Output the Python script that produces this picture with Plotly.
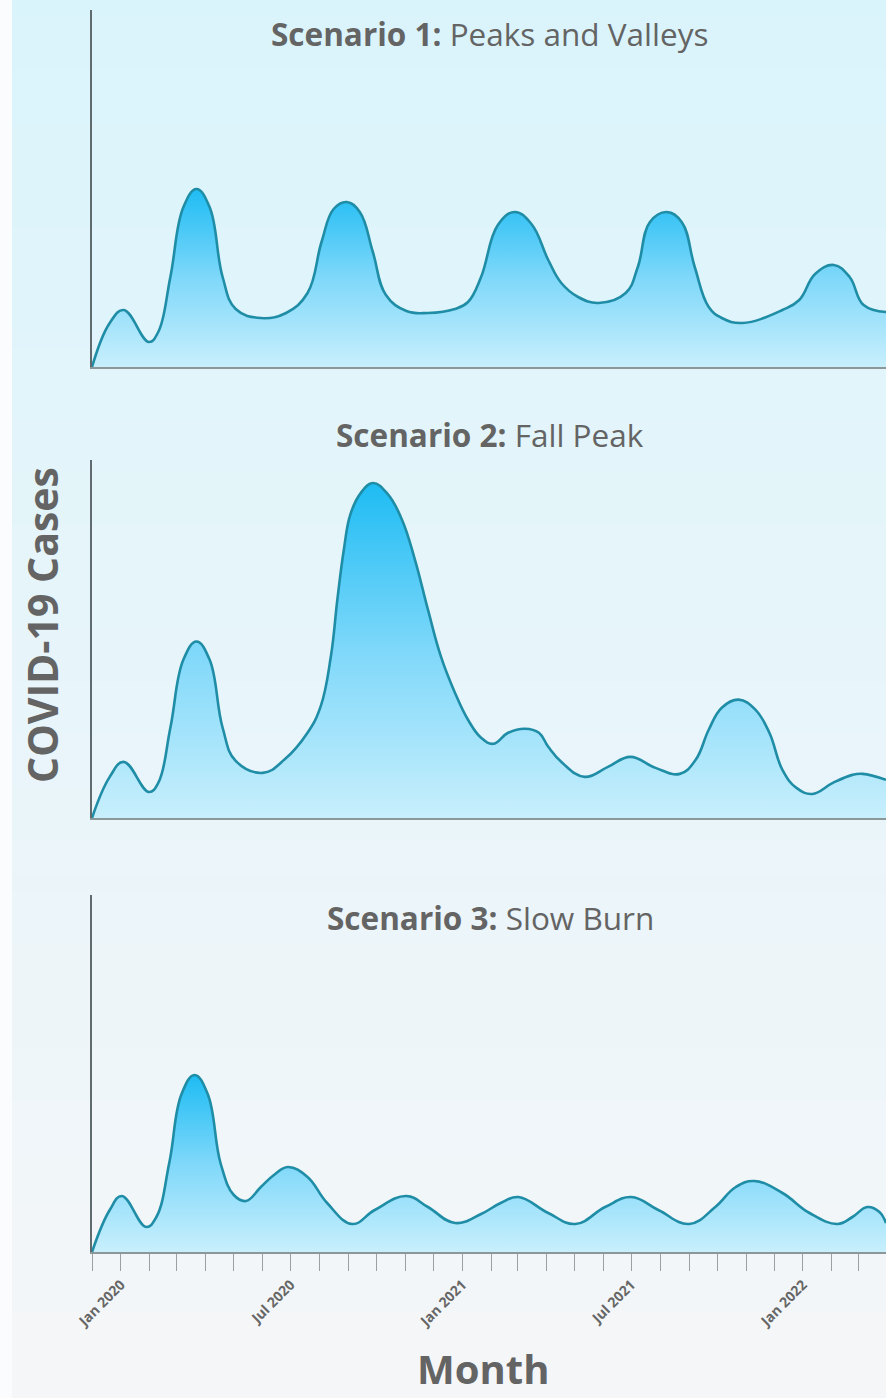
import plotly.graph_objects as go

W, H = 886, 1398
L_MARGIN = 92

# ---------------- data ----------------
s1_dates = ["2019-12-01", "2019-12-20", "2020-01-04", "2020-01-31", "2020-02-10", "2020-02-23",
            "2020-03-08", "2020-03-22", "2020-04-05", "2020-04-19", "2020-05-03", "2020-05-30",
            "2020-06-26", "2020-07-19", "2020-08-03", "2020-08-16", "2020-08-30", "2020-09-13",
            "2020-09-27", "2020-10-11", "2020-11-02", "2020-11-25", "2020-12-24", "2021-01-07",
            "2021-01-21", "2021-02-08", "2021-02-26", "2021-03-16", "2021-04-03", "2021-04-17",
            "2021-05-05", "2021-05-27", "2021-06-25", "2021-07-08", "2021-07-21", "2021-08-08",
            "2021-08-24", "2021-09-07", "2021-09-22", "2021-10-06", "2021-10-28", "2021-12-10",
            "2021-12-28", "2022-01-14", "2022-02-03", "2022-02-20", "2022-03-07", "2022-03-31"]
s1_cases = [0, 44, 57, 25, 35, 90,
            160, 178, 160, 90, 58, 49,
            54, 74, 125, 158, 165, 155,
            115, 72, 56, 54, 58, 65,
            90, 142, 155, 143, 107, 84,
            70, 64, 74, 100, 145, 155,
            145, 100, 60, 49, 44, 57,
            67, 93, 102, 90, 62, 55]

s2_dates = ["2019-12-01", "2019-12-20", "2020-01-04", "2020-01-31", "2020-02-10", "2020-02-23",
            "2020-03-08", "2020-03-22", "2020-04-05", "2020-04-19", "2020-05-03", "2020-06-01",
            "2020-06-24", "2020-07-19", "2020-08-02", "2020-08-13", "2020-08-20", "2020-08-27",
            "2020-09-03", "2020-09-14", "2020-09-27", "2020-10-13", "2020-10-28", "2020-11-11",
            "2020-11-25", "2020-12-09", "2020-12-24", "2021-01-07", "2021-01-21", "2021-02-03",
            "2021-02-19", "2021-03-09", "2021-03-24", "2021-04-03", "2021-04-18", "2021-05-12",
            "2021-06-06", "2021-06-30", "2021-07-27", "2021-08-22", "2021-09-08", "2021-09-22",
            "2021-10-06", "2021-10-24", "2021-11-11", "2021-11-26", "2021-12-10", "2021-12-25",
            "2022-01-11", "2022-02-02", "2022-02-23", "2022-03-06", "2022-03-31"]
s2_cases = [0, 41, 56, 26, 35, 90,
            158, 176, 158, 90, 57, 45,
            58, 85, 111, 161, 218, 268,
            303, 324, 334, 323, 298, 258,
            208, 161, 125, 98, 80, 74,
            85, 89, 85, 71, 55, 41,
            51, 61, 50, 44, 58, 88,
            110, 118, 108, 85, 48, 30,
            24, 35, 43, 44, 38]

s3_dates = ["2019-12-01", "2019-12-20", "2020-01-02", "2020-01-28", "2020-02-08", "2020-02-22",
            "2020-03-06", "2020-03-20", "2020-04-03", "2020-04-17", "2020-05-01", "2020-05-14",
            "2020-05-30", "2020-06-13", "2020-06-28", "2020-07-19", "2020-08-09", "2020-09-05",
            "2020-09-29", "2020-11-02", "2020-11-25", "2020-12-24", "2021-01-21", "2021-02-11",
            "2021-03-02", "2021-04-03", "2021-05-02", "2021-06-03", "2021-07-01", "2021-07-30",
            "2021-09-01", "2021-09-29", "2021-10-21", "2021-11-10", "2021-12-10", "2022-01-08",
            "2022-02-07", "2022-02-23", "2022-03-11", "2022-03-24", "2022-03-31"]
s3_cases = [0, 42, 56, 25, 35, 90,
            158, 177, 158, 88, 57, 51,
            65, 77, 85, 75, 49, 28,
            42, 56, 45, 29, 38, 49,
            55, 39, 28, 45, 55, 42,
            28, 45, 65, 71, 59, 39,
            28, 35, 45, 40, 29]

titles_bold = ["Scenario 1:", "Scenario 2:", "Scenario 3:"]
titles_rest = ["Peaks and Valleys", "Fall Peak", "Slow Burn"]
x_range = ["2019-12-01", "2022-03-31"]
y_title = "COVID-19 Cases"
x_title = "Month"

# ---------------- layout helpers ----------------
FONT = "Open Sans"
TEXT = "#646464"
LINE = "#1f8da6"
# panel pixel extents (top, bottom) and title centre y
panels = [(10, 367, 33), (460, 818, 435), (895, 1252, 918)]


def py(p):
    return 1 - p / H


def px(p):
    return (p - L_MARGIN) / (W - L_MARGIN)


fig = go.Figure()

series = [(s1_dates, s1_cases), (s2_dates, s2_cases), (s3_dates, s3_cases)]
for i, (d, v) in enumerate(series):
    k = "" if i == 0 else str(i + 1)
    fig.add_trace(go.Scatter(
        x=d, y=v, xaxis="x" + k, yaxis="y" + k,
        mode="lines", line=dict(color=LINE, width=2.6, shape="spline", smoothing=1.2),
        fill="tozeroy",
        fillgradient=dict(type="vertical",
                          colorscale=[[0, "#c8effc"], [0.5, "#7fd8fa"], [1, "#1ebcf3"]]),
        hoverinfo="skip", showlegend=False,
    ))

layout = dict(
    width=W, height=H,
    margin=dict(l=L_MARGIN, r=0, t=0, b=0),
    paper_bgcolor="#fbfcfd",
    plot_bgcolor="rgba(0,0,0,0)",
    font=dict(family=FONT, color=TEXT),
    showlegend=False,
)

for i, (top, bot, ty) in enumerate(panels):
    k = "" if i == 0 else str(i + 1)
    last = i == 2
    xa = dict(
        type="date", range=x_range, domain=[0, 1], anchor="y" + k,
        showline=True, linecolor="#8c979a", linewidth=2, showgrid=False, zeroline=False,
        fixedrange=True,
    )
    if last:
        xa.update(
            tick0="2020-01-01", dtick="M6", ticks="outside", ticklen=17, tickwidth=1,
            tickcolor="#9aa0a3", tickformat="%b %Y", tickangle=-45,
            tickfont=dict(family=FONT, size=14, color="#666666", weight="bold"),
            minor=dict(dtick="M1", ticks="outside", ticklen=17, tickwidth=1,
                       tickcolor="#9aa0a3", showgrid=False),
        )
    else:
        xa.update(showticklabels=False, ticks="")
    ya = dict(
        domain=[py(bot), py(top)], anchor="x" + k, range=[0, 357],
        showline=True, linecolor="#5f6b6e", linewidth=2, showgrid=False, zeroline=False,
        showticklabels=False, ticks="", fixedrange=True,
    )
    layout["xaxis" + k] = xa
    layout["yaxis" + k] = ya

fig.update_layout(**layout)

# background gradient (cyan at top to light grey at bottom)
shapes = []
N = 80
top_c = (218, 244, 251)
mid_c = (232, 245, 250)
bot_c = (245, 246, 248)
for j in range(N):
    t = (j + 0.5) / N
    if t < 0.5:
        u = t / 0.5
        c = [round(top_c[q] + (mid_c[q] - top_c[q]) * u) for q in range(3)]
    else:
        u = (t - 0.5) / 0.5
        c = [round(mid_c[q] + (bot_c[q] - mid_c[q]) * u) for q in range(3)]
    shapes.append(dict(
        type="rect", xref="paper", yref="paper",
        x0=px(12), x1=1.01, y0=1 - (j + 1) / N - 0.001, y1=1 - j / N,
        fillcolor="rgb(%d,%d,%d)" % tuple(c), line=dict(width=0), layer="below",
    ))
fig.update_layout(shapes=shapes)

# titles
ann = []
for i, (top, bot, ty) in enumerate(panels):
    ann.append(dict(
        xref="paper", yref="paper", x=px(490), y=py(ty), xanchor="center", yanchor="middle",
        text="<b>%s</b> %s" % (titles_bold[i], titles_rest[i]), showarrow=False,
        font=dict(family=FONT, size=31.5, color=TEXT),
    ))
ann.append(dict(
    xref="paper", yref="paper", x=px(42), y=py(625), xanchor="center", yanchor="middle",
    text="<b>%s</b>" % y_title, textangle=-90, showarrow=False,
    font=dict(family=FONT, size=41, color=TEXT),
))
ann.append(dict(
    xref="paper", yref="paper", x=px(483), y=0, xanchor="center", yanchor="bottom",
    text="<b>%s</b>" % x_title, showarrow=False,
    font=dict(family=FONT, size=40, color=TEXT),
))
fig.update_layout(annotations=ann)

fig.write_html("out.html", post_script="document.body.style.margin='0';",
               config={"displayModeBar": False})
